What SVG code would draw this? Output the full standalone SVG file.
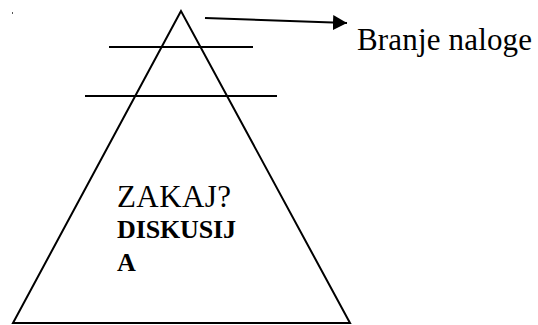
<svg xmlns="http://www.w3.org/2000/svg" width="538" height="325" viewBox="0 0 538 325">
<style>
.ln{stroke:#000;stroke-width:2;fill:none}
text{font-family:"Liberation Serif","Times New Roman","DejaVu Serif",serif;fill:#000}
.b{font-weight:bold;font-size:26px}
</style>
<defs>
<marker id="ah" markerWidth="14" markerHeight="15" refX="14" refY="7.5" orient="auto" markerUnits="userSpaceOnUse">
<path d="M0,0 L14,7.5 L0,15 Z" fill="#000"/>
</marker>
</defs>
<rect x="12" y="12" width="1" height="2" fill="#555"/>
<g id="pyramid">
<path class="ln" d="M181,11 L13,323 L350,323 Z"/>
</g>
<g id="level1"><line class="ln" x1="109" y1="47" x2="253" y2="47"/></g>
<g id="level2"><line class="ln" x1="85" y1="96" x2="277" y2="96"/></g>
<g id="connectors">
<line class="ln" x1="205" y1="18" x2="347" y2="23" marker-end="url(#ah)"/>
</g>
<g id="label">
<text x="357" y="50" font-size="31" textLength="175">Branje naloge</text>
</g>
<g id="center-text">
<text x="117" y="207" font-size="31" textLength="114">ZAKAJ?</text>
<text class="b" x="117" y="238" textLength="119">DISKUSIJ</text>
<text class="b" x="117" y="271">A</text>
</g>
</svg>
